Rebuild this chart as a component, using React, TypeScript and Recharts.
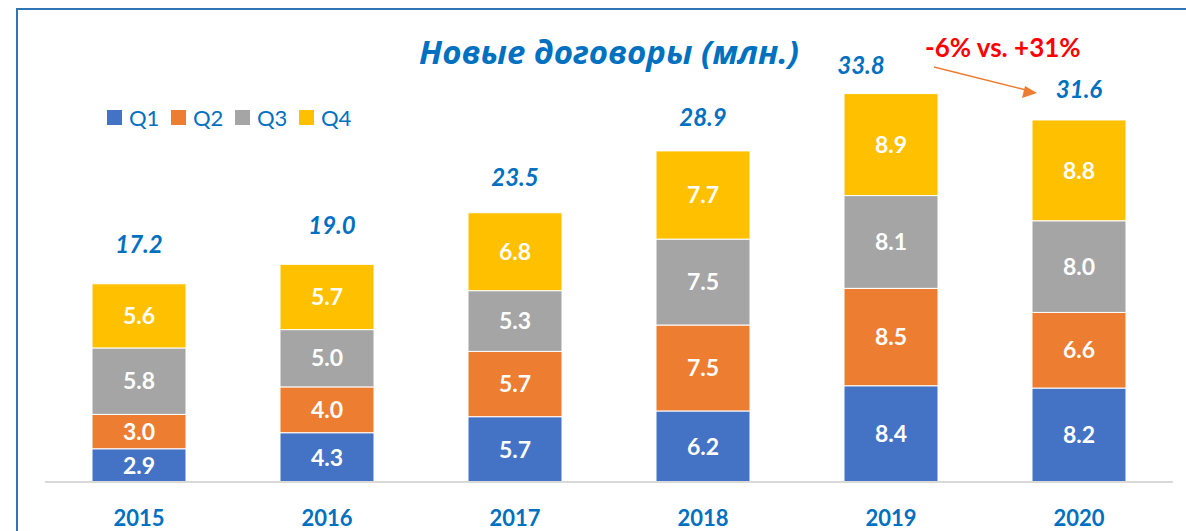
import React from "react"
import { BarChart, Bar, XAxis, YAxis, LabelList } from "recharts"

const years = ["2015", "2016", "2017", "2018", "2019", "2020"]
const q1 = [2.9, 4.3, 5.7, 6.2, 8.4, 8.2]
const q2 = [3.0, 4.0, 5.7, 7.5, 8.5, 6.6]
const q3 = [5.8, 5.0, 5.3, 7.5, 8.1, 8.0]
const q4 = [5.6, 5.7, 6.8, 7.7, 8.9, 8.8]
const totals = [17.2, 19.0, 23.5, 28.9, 33.8, 31.6]

const series = [
  { key: "Q1", color: "#4472C4" },
  { key: "Q2", color: "#ED7D31" },
  { key: "Q3", color: "#A5A5A5" },
  { key: "Q4", color: "#FFC000" },
]

const data = years.map((year, i) => ({
  year,
  Q1: q1[i],
  Q2: q2[i],
  Q3: q3[i],
  Q4: q4[i],
  total: totals[i],
}))

// total labels were hand-placed in the original, nudge a few
const totalDx: Record<string, number> = { "2016": 5, "2019": -30 }
const totalDy: Record<string, number> = { "2015": -40, "2016": -40, "2017": -36, "2018": -34, "2019": -29, "2020": -31 }

const BLUE = "#0070C0"
const FONT = "Lato, 'Open Sans', sans-serif"

const TotalLabel = (props: any) => {
  const { x, y, width, index } = props
  const d = data[index]
  if (!d) return null
  return (
    <text
      x={Number(x) + Number(width) / 2 + (totalDx[d.year] ?? 0)}
      y={Number(y) + (totalDy[d.year] ?? -34)}
      textAnchor="middle"
      dominantBaseline="central"
      fill={BLUE}
      fontSize={24}
      fontWeight={700}
      fontStyle="italic"
      fontFamily={FONT}
    >
      {d.total.toFixed(1)}
    </text>
  )
}

const fmt = (v: any) => Number(v).toFixed(1)

export default function App() {
  return (
    <div
      style={{
        position: "fixed",
        left: 0,
        top: 0,
        width: 1186,
        height: 531,
        background: "#fff",
        overflow: "hidden",
      }}
    >
      <div
        style={{
          position: "absolute",
          left: 16,
          top: 8,
          width: 1200,
          height: 600,
          borderLeft: "2px solid #2E75B6",
          borderTop: "2px solid #2E75B6",
        }}
      />
      <div style={{ position: "absolute", left: 0, top: 0 }}>
        <BarChart
          width={1186}
          height={531}
          data={data}
          margin={{ top: 81, right: 13, left: 45, bottom: 9 }}
          barSize={94}
        >
          <XAxis
            dataKey="year"
            height={40}
            tickLine={false}
            axisLine={{ stroke: "#D9D9D9", strokeWidth: 2 }}
            tick={{ fill: BLUE, fontSize: 22, fontWeight: 700, fontFamily: FONT }}
            tickMargin={22}
          />
          <YAxis hide domain={[0, 35]} />
          {series.map((s) => (
            <Bar key={s.key} dataKey={s.key} stackId="a" fill={s.color} stroke="#fff" strokeWidth={1} isAnimationActive={false}>
              <LabelList dataKey={s.key} position="center" fill="#fff" fontSize={23} fontWeight={700} fontFamily={FONT} formatter={fmt} />
              {s.key === "Q4" ? <LabelList dataKey="total" content={TotalLabel} /> : null}
            </Bar>
          ))}
        </BarChart>
      </div>
      <div
        style={{
          position: "absolute",
          left: 107,
          top: 104,
          display: "flex",
          fontFamily: FONT,
          fontSize: 22,
          color: BLUE,
        }}
      >
        {series.map((s) => (
          <div key={s.key} style={{ display: "flex", alignItems: "center", width: 64 }}>
            <span style={{ width: 15, height: 15, background: s.color, display: "inline-block", marginRight: 7 }} />
            <span>{s.key}</span>
          </div>
        ))}
      </div>
      <div
        style={{
          position: "absolute",
          left: 0,
          width: 1218,
          top: 29,
          textAlign: "center",
          fontFamily: "'Open Sans', sans-serif",
          fontSize: 33,
          fontWeight: 700,
          fontStyle: "italic",
          color: BLUE,
        }}
      >
        Новые договоры (млн.)
      </div>
      <div
        style={{
          position: "absolute",
          left: 925,
          top: 31,
          fontFamily: FONT,
          fontSize: 26,
          fontWeight: 700,
          color: "#FF0000",
          whiteSpace: "nowrap",
        }}
      >
        -6% vs. +31%
      </div>
      <svg width={1186} height={531} style={{ position: "absolute", left: 0, top: 0, pointerEvents: "none" }}>
        <line x1={934} y1={67} x2={1030} y2={91} stroke="#ED7D31" strokeWidth={1.5} />
        <polygon points="1037,93 1022,98 1025,86" fill="#ED7D31" />
      </svg>
    </div>
  )
}
